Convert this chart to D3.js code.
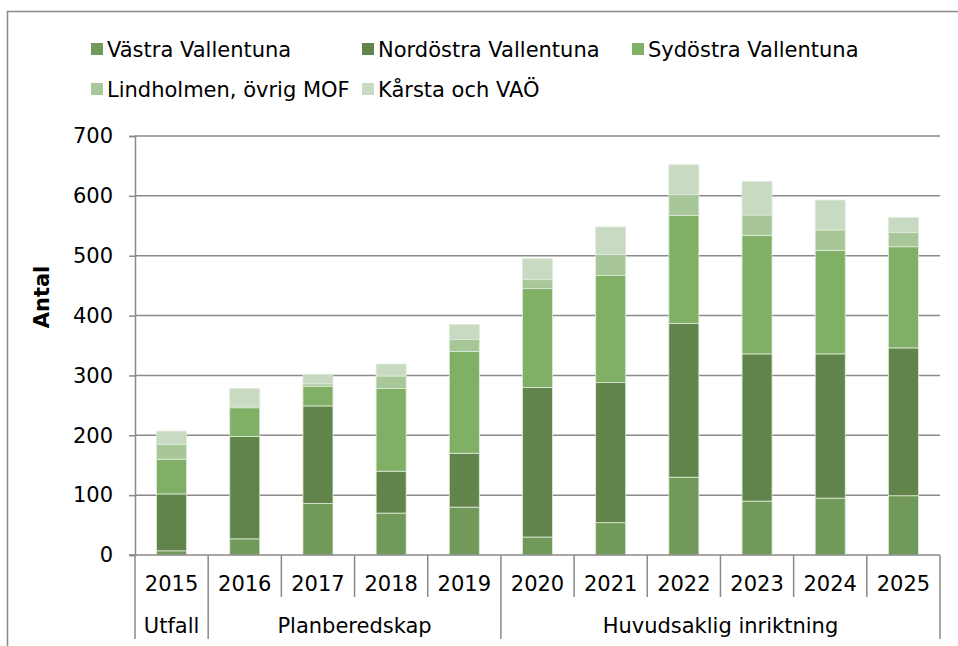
<!DOCTYPE html>
<html>
<head>
<meta charset="utf-8" />
<title>Antal per område</title>
<script src="https://d3js.org/d3.v7.min.js"></script>
<style>
  body { margin: 0; background: #fff; }
  text { font-family: "DejaVu Sans", Verdana, sans-serif; fill: #000; }
</style>
</head>
<body>
<script>

// data
var years = ["2015","2016","2017","2018","2019","2020","2021","2022","2023","2024","2025"];
var groupLabels = ["Utfall", "Planberedskap", "Huvudsaklig inriktning"];
var groupSizes = [1, 4, 6];
var seriesNames = ["Västra Vallentuna", "Nordöstra Vallentuna", "Sydöstra Vallentuna", "Lindholmen, övrig MOF", "Kårsta och VAÖ"];
var vastra     = [7, 27, 86, 70, 80, 30, 54, 130, 90, 95, 99];
var nordostra  = [95, 171, 163, 70, 90, 250, 234, 257, 246, 241, 247];
var sydostra   = [58, 48, 33, 138, 170, 165, 179, 180, 198, 173, 169];
var lindholmen = [25, 3, 4, 21, 20, 15, 35, 35, 34, 34, 24];
var karsta     = [22, 29, 16, 20, 25, 35, 46, 50, 56, 50, 25];
var yTicks = [0, 100, 200, 300, 400, 500, 600, 700];

var colors = ["#71995a", "#61844a", "#80b066", "#a8c799", "#c8dbc2"];
var gridColor = "#8a8a8a";

var width = 958, height = 646;
var svg = d3.select("body").append("svg")
	.attr("width", width)
	.attr("height", height);

// outer chart frame (cut off at right and bottom)
svg.append("path")
	.attr("d", "M7.5,700 L7.5,11.5 L970,11.5")
	.attr("fill", "none")
	.attr("stroke", gridColor)
	.attr("stroke-width", 1.5);

var rows = years.map(function(y, i) {
	return { year: y, s0: vastra[i], s1: nordostra[i], s2: sydostra[i], s3: lindholmen[i], s4: karsta[i] };
});
var keys = ["s0", "s1", "s2", "s3", "s4"];
var stacked = d3.stack().keys(keys)(rows);

var x = d3.scaleBand().domain(years).range([135, 940]).paddingInner(0.59).paddingOuter(0.295);
var y = d3.scaleLinear().domain([0, 700]).range([555, 136]);

// gridlines
svg.append("g")
	.selectAll("line")
	.data(yTicks.slice(1))
	.enter()
	.append("line")
	.attr("x1", 135).attr("x2", 940)
	.attr("y1", function(d){ return y(d); })
	.attr("y2", function(d){ return y(d); })
	.attr("stroke", gridColor)
	.attr("stroke-width", 1.5);

// y axis
var yAxis = svg.append("g")
	.attr("transform", "translate(135,0)")
	.call(d3.axisLeft(y).tickValues(yTicks).tickSize(6).tickPadding(16));
yAxis.select(".domain").attr("stroke", gridColor).attr("stroke-width", 1.5);
yAxis.selectAll(".tick line").attr("stroke", gridColor).attr("stroke-width", 1.5);
yAxis.selectAll(".tick text")
	.attr("font-family", "DejaVu Sans, Verdana, sans-serif")
	.attr("font-size", 21)
	.attr("fill", "#000");

// bars
svg.append("g")
	.selectAll("g")
	.data(stacked)
	.enter()
	.append("g")
	.attr("fill", function(d, i){ return colors[i]; })
	.selectAll("rect")
	.data(function(d){ return d; })
	.enter()
	.append("rect")
	.attr("x", function(d){ return x(d.data.year); })
	.attr("width", x.bandwidth())
	.attr("y", function(d){ return y(d[1]); })
	.attr("height", function(d){ return y(d[0]) - y(d[1]); })
	.attr("stroke", "#dfeada")
	.attr("stroke-width", 0.8);

// x axis: baseline, year separators, group separators
svg.append("line")
	.attr("x1", 129).attr("x2", 940)
	.attr("y1", 555).attr("y2", 555)
	.attr("stroke", gridColor).attr("stroke-width", 1.5);

var step = x.step();
var x0 = 135;
var groupEdges = [0];
groupSizes.forEach(function(n, i){ groupEdges.push(groupEdges[i] + n); });

d3.range(years.length + 1).forEach(function(i) {
	var isGroup = groupEdges.indexOf(i) >= 0;
	svg.append("line")
		.attr("x1", x0 + i * step).attr("x2", x0 + i * step)
		.attr("y1", 555).attr("y2", isGroup ? 639 : 597)
		.attr("stroke", gridColor).attr("stroke-width", 1.5);
});

svg.append("g")
	.selectAll("text")
	.data(years)
	.enter()
	.append("text")
	.attr("x", function(d){ return x(d) + x.bandwidth() / 2; })
	.attr("y", 591)
	.attr("text-anchor", "middle")
	.attr("font-size", 21)
	.text(function(d){ return d; });

svg.append("g")
	.selectAll("text")
	.data(groupLabels)
	.enter()
	.append("text")
	.attr("x", function(d, i){ return x0 + (groupEdges[i] + groupEdges[i + 1]) / 2 * step; })
	.attr("y", 633)
	.attr("text-anchor", "middle")
	.attr("font-size", 21)
	.text(function(d){ return d; });

// y axis title
svg.append("text")
	.attr("transform", "translate(49,297) rotate(-90)")
	.attr("text-anchor", "middle")
	.attr("font-size", 21)
	.attr("font-weight", "bold")
	.text("Antal");

// legend
var legendPos = [[91, 49], [362, 49], [632, 49], [91, 89], [362, 89]];
var legend = svg.append("g")
	.selectAll("g")
	.data(seriesNames)
	.enter()
	.append("g")
	.attr("transform", function(d, i){ return "translate(" + legendPos[i][0] + "," + legendPos[i][1] + ")"; });
legend.append("rect")
	.attr("x", 0).attr("y", -6)
	.attr("width", 12).attr("height", 12)
	.attr("fill", function(d, i){ return colors[i]; });
legend.append("text")
	.attr("x", 16)
	.attr("y", 7.5)
	.attr("font-size", 21)
	.text(function(d){ return d; });

</script>
</body>
</html>
